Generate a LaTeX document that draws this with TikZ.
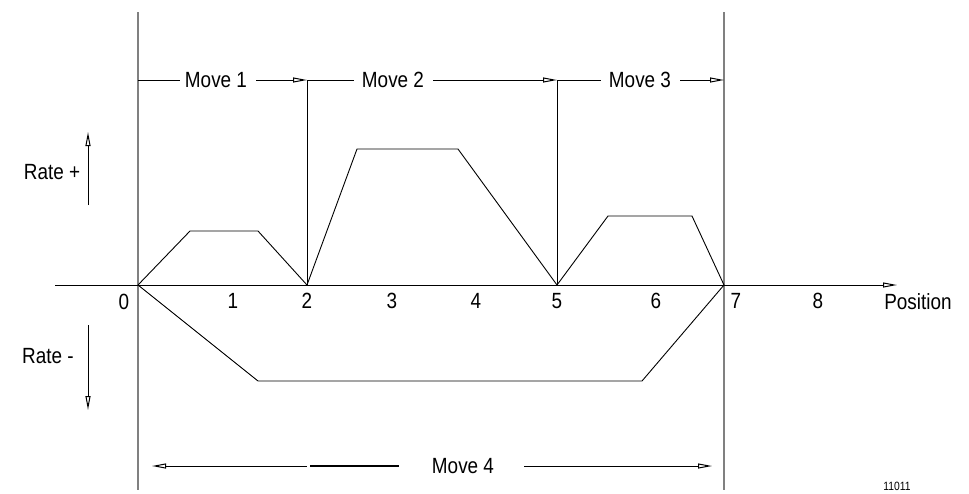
\documentclass[tikz,border=0pt]{standalone}
\usepackage{fontspec}
\setmainfont[FakeStretch=0.86]{Liberation Sans}
\usetikzlibrary{arrows.meta}
\begin{document}
\begin{tikzpicture}[x=1pt,y=-1pt,
  lbl/.style={font=\fontsize{22}{22}\selectfont, inner sep=0pt, anchor=center},
  ln/.style={line width=1pt, black},
  gl/.style={line width=2pt, gray},
  arr/.style={ln, -{Triangle[open,length=14pt,width=5pt]}},
  prof/.style={line width=0.9pt, black, line join=miter}]
\useasboundingbox (0,0) rectangle (969,493);
% vertical lines
\coordinate (gA1) at (138,12); \coordinate (gA2) at (138,490);
\coordinate (gB1) at (724,12); \coordinate (gB2) at (724,490);
\draw[gl] (gA1) -- (gA2);
\draw[gl] (gB1) -- (gB2);
\coordinate (v2t) at (307,80); \coordinate (v2b) at (307,285);
\coordinate (v5t) at (557,80); \coordinate (v5b) at (557,285);
\draw[ln] (v2t) -- (v2b);
\draw[ln] (v5t) -- (v5b);
% axis
\coordinate (ax0) at (55,285); \coordinate (ax1) at (897,285);
\draw[arr] (ax0) -- (ax1);
% move labels top
\node[lbl] (m1) at (216,80) {Move 1};
\node[lbl] (m2) at (393,80) {Move 2};
\node[lbl] (m3) at (640,80) {Move 3};
\coordinate (t0) at (138,80); \coordinate (t7) at (724,80);
\draw[ln] (t0) -- ([xshift=-5pt]m1.west);
\draw[arr] ([xshift=9pt]m1.east) -- (v2t);
\draw[ln] (v2t) -- ([xshift=-8pt]m2.west);
\draw[arr] ([xshift=9pt]m2.east) -- (v5t);
\draw[ln] (v5t) -- ([xshift=-8pt]m3.west);
\draw[arr] ([xshift=9pt]m3.east) -- (t7);
% rate labels
\node[lbl] (rp) at (52,172) {Rate +};
\node[lbl] (rm) at (48,356) {Rate -};
\coordinate (rpa) at (88,205); \coordinate (rpb) at (88,132);
\coordinate (rma) at (88,325); \coordinate (rmb) at (88,410);
\draw[arr] (rpa) -- (rpb);
\draw[arr] (rma) -- (rmb);
% profiles
\coordinate (p0) at (138,285); \coordinate (p2) at (307,285);
\coordinate (p5) at (557,285); \coordinate (p7) at (724,285);
\draw[prof] (p0) -- (190,231) -- (258,231) -- (p2);
\draw[prof] (p2) -- (357,149) -- (458,149) -- (p5);
\draw[prof] (p5) -- (608,216) -- (692,216) -- (p7);
\draw[prof] (p0) -- (258,381) -- (642,381) -- (p7);
% numbers
\node[lbl] (n0) at (124,302) {0};
\node[lbl] (n1) at (233,301) {1};
\node[lbl] (n2) at (307,301) {2};
\node[lbl] (n3) at (392,301) {3};
\node[lbl] (n4) at (476,301) {4};
\node[lbl] (n5) at (557,301) {5};
\node[lbl] (n6) at (656,301) {6};
\node[lbl] (n7) at (736,301) {7};
\node[lbl] (n8) at (818,301) {8};
\node[lbl] (pos) at (918,302) {Position};
% move 4
\node[lbl] (m4) at (463,466) {Move 4};
\coordinate (m4l) at (307,466); \coordinate (m4lt) at (152,466);
\coordinate (m4a) at (310,466); \coordinate (m4b) at (399,466);
\coordinate (m4r) at (524,466); \coordinate (m4rt) at (712,466);
\draw[arr] (m4l) -- (m4lt);
\draw[line width=2.5pt] (m4a) -- (m4b);
\draw[arr] (m4r) -- (m4rt);
% figure number
\node[font=\fontsize{12}{12}\selectfont, inner sep=0pt] (fig) at (897,486) {11011};
\end{tikzpicture}
\end{document}
